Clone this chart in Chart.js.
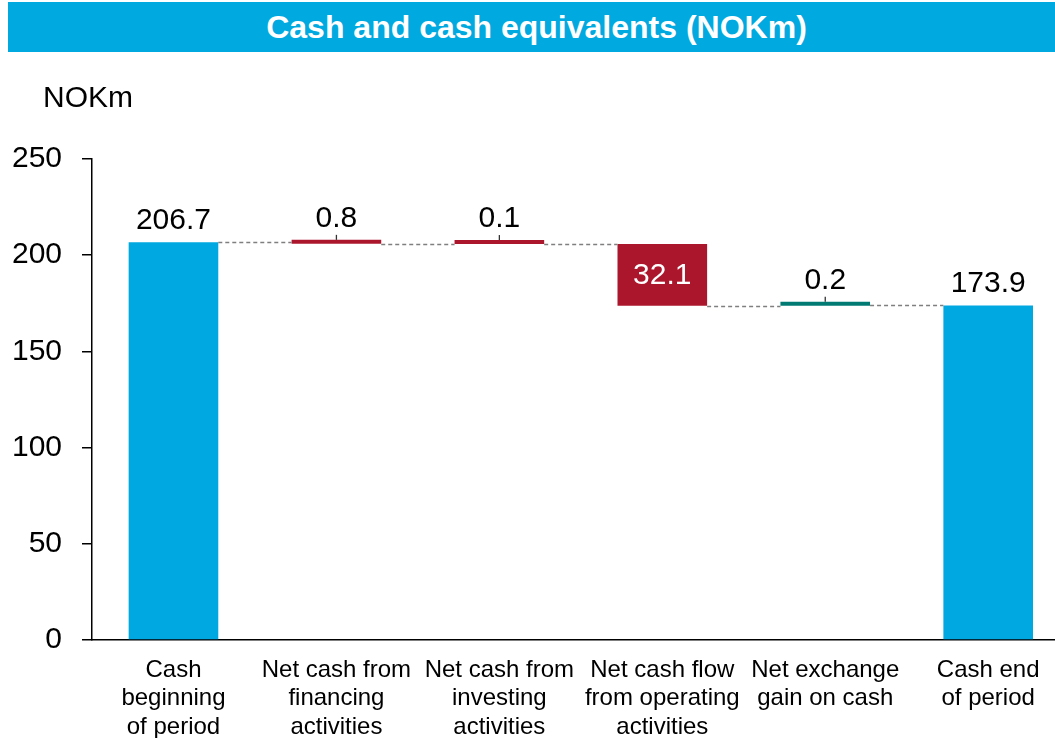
<!DOCTYPE html>
<html>
<head>
<meta charset="utf-8">
<script src="https://cdn.jsdelivr.net/npm/chart.js@4.4.1/dist/chart.umd.min.js"></script>
<style>
  html, body { margin: 0; padding: 0; background: #fff; overflow: hidden; }
  #wrap { position: relative; width: 1055px; height: 738px; }
  #header { position: absolute; left: 8px; top: 2px; width: 1047px; height: 50px; background: #00A9E0;
    color: #fff; font: bold 32px "Liberation Sans", Arial, sans-serif; line-height: 50px; text-align: center; padding-left: 10px; box-sizing: border-box; }
  #unit { position: absolute; left: 43px; top: 80px; font: 30px "Liberation Sans", Arial, sans-serif; color: #000; }
  canvas { position: absolute; left: 0; top: 0; }
</style>
</head>
<body>
<div id="wrap">
  <canvas id="c" width="1055" height="738"></canvas>
  <div id="header">Cash and cash equivalents (NOKm)</div>
  <div id="unit">NOKm</div>
</div>
<script>
// ---- data ----
const categories = [
  ["Cash", "beginning", "of period"],
  ["Net cash from", "financing", "activities"],
  ["Net cash from", "investing", "activities"],
  ["Net cash flow", "from operating", "activities"],
  ["Net exchange", "gain on cash"],
  ["Cash end", "of period"]
];
const kinds = ["total", "delta", "delta", "delta", "delta", "total"];
const values = [206.7, -0.8, -0.1, -32.1, 0.2, 173.9];
const labels = ["206.7", "0.8", "0.1", "32.1", "0.2", "173.9"];
const yTicks = [0, 50, 100, 150, 200, 250];

const BLUE = "#00A8E1", RED = "#AC162C", TEAL = "#007A73";

// build floating ranges
let running = 0;
const ranges = [], levels = [], colors = [];
values.forEach((v, i) => {
  if (kinds[i] === "total") {
    ranges.push({ x: i, y: [0, v] });
    running = v;
    colors.push(BLUE);
  } else {
    const start = running;
    running = +(running + v).toFixed(3);
    ranges.push({ x: i, y: [start, running] });
    colors.push(v < 0 ? RED : TEAL);
  }
  levels.push(running);
});

const FONT = '"Liberation Sans", Arial, sans-serif';

const waterfallPlugin = {
  id: "waterfall",
  afterDatasetsDraw(chart) {
    const ctx = chart.ctx;
    const meta = chart.getDatasetMeta(0);
    const y = chart.scales.y;
    ctx.save();
    // connectors
    ctx.strokeStyle = "#7F7F7F";
    ctx.lineWidth = 1.3;
    ctx.setLineDash([4, 3]);
    for (let i = 0; i < meta.data.length - 1; i++) {
      const a = meta.data[i], b = meta.data[i + 1];
      const py = Math.round(y.getPixelForValue(levels[i])) + 0.5;
      ctx.beginPath();
      ctx.moveTo(a.x + a.width / 2, py);
      ctx.lineTo(b.x - b.width / 2, py);
      ctx.stroke();
    }
    ctx.setLineDash([]);
    // labels
    ctx.font = "30px " + FONT;
    ctx.textAlign = "center";
    meta.data.forEach((el, i) => {
      const top = Math.min(el.y, el.base);
      const bot = Math.max(el.y, el.base);
      if (kinds[i] === "delta" && bot - top > 40) {
        ctx.fillStyle = "#fff";
        ctx.textBaseline = "middle";
        ctx.fillText(labels[i], el.x, (top + bot) / 2 + 1);
      } else {
        if (kinds[i] === "delta") {
          ctx.strokeStyle = "#333";
          ctx.lineWidth = 1.3;
          ctx.beginPath();
          ctx.moveTo(el.x, top);
          ctx.lineTo(el.x, top - 5);
          ctx.stroke();
        }
        ctx.fillStyle = "#000";
        ctx.textBaseline = "alphabetic";
        ctx.fillText(labels[i], el.x, top - 13);
      }
    });
    ctx.restore();
  }
};

new Chart(document.getElementById("c"), {
  type: "bar",
  data: {
    datasets: [{
      data: ranges,
      backgroundColor: colors,
      borderWidth: 0,
      minBarLength: 4,
      barPercentage: 0.55,
      categoryPercentage: 1
    }]
  },
  options: {
    responsive: false,
    animation: false,
    devicePixelRatio: 1,
    layout: { padding: { top: 159, left: 0, right: 0, bottom: 0 } },
    plugins: { legend: { display: false }, tooltip: { enabled: false } },
    scales: {
      x: {
        type: "linear",
        offset: false,
        min: -0.5,
        max: 5.41,
        afterBuildTicks(scale) { scale.ticks = categories.map((_, i) => ({ value: i })); },
        afterFit(scale) { scale.height = 98; },
        grid: { display: false, offset: false },
        border: { display: true, color: "#000", width: 1.5 },
        ticks: {
          callback: (v) => categories[v],
          color: "#000",
          font: { family: FONT, size: 24, lineHeight: 1.19 },
          padding: 8,
          maxRotation: 0,
          autoSkip: false
        }
      },
      y: {
        min: 0,
        max: 250,
        afterBuildTicks(scale) { scale.ticks = yTicks.map(v => ({ value: v })); },
        afterFit(scale) { scale.width = 92; },
        grid: { display: true, drawOnChartArea: false, drawTicks: true, tickLength: 10, color: "#000", lineWidth: 1.5 },
        border: { display: true, color: "#000", width: 1.5 },
        ticks: { color: "#000", font: { family: FONT, size: 30 }, padding: 20 }
      }
    }
  },
  plugins: [waterfallPlugin]
});
</script>
</body>
</html>
